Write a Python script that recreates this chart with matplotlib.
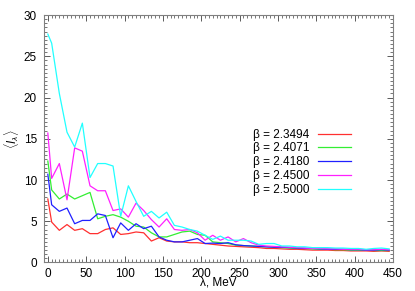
import matplotlib
matplotlib.use('Agg')
import matplotlib.pyplot as plt
from matplotlib.ticker import MultipleLocator

plt.rcParams['font.family'] = ['Liberation Sans', 'DejaVu Sans']
plt.rcParams['mathtext.fontset'] = 'custom'
plt.rcParams['mathtext.rm'] = 'Liberation Sans'
plt.rcParams['mathtext.it'] = 'Liberation Sans:italic'

# lambda values (MeV)
lam = [0] + list(range(5, 455, 10))

b23494 = [7.7, 4.9, 3.9, 4.6, 3.9, 4.1, 3.5, 3.5, 4.0, 4.2, 3.4, 3.5, 3.7, 3.6, 2.6, 3.0,
          2.6, 2.5, 2.5, 2.4, 2.4, 2.3, 2.2, 2.1, 2.0, 1.95, 1.9, 1.85, 1.8, 1.7, 1.7, 1.65,
          1.6, 1.6, 1.55, 1.5, 1.5, 1.5, 1.45, 1.45, 1.4, 1.4, 1.4, 1.35, 1.4, 1.35]
b24071 = [12.3, 8.8, 7.7, 8.3, 7.7, 8.1, 8.5, 5.3, 5.6, 5.8, 5.5, 5.0, 4.4, 4.3, 3.6, 3.1,
          3.1, 3.4, 3.7, 3.8, 3.4, 3.3, 2.5, 2.4, 2.3, 2.1, 2.05, 2.0, 1.95, 1.9, 1.85, 1.8,
          1.75, 1.7, 1.7, 1.65, 1.6, 1.6, 1.55, 1.55, 1.5, 1.5, 1.5, 1.45, 1.45, 1.45]
b24180 = [10.7, 7.0, 6.2, 6.6, 4.7, 5.1, 5.1, 5.9, 5.7, 3.0, 4.8, 3.9, 4.7, 4.1, 4.4, 3.1,
          2.7, 2.5, 2.5, 2.7, 2.9, 2.3, 2.35, 2.3, 2.4, 2.15, 2.05, 2.0, 1.95, 1.9, 1.85, 1.85,
          1.8, 1.75, 1.7, 1.7, 1.65, 1.6, 1.6, 1.6, 1.55, 1.55, 1.5, 1.5, 1.55, 1.5]
b24500 = [15.7, 10.2, 12.0, 7.6, 13.9, 13.5, 9.3, 8.7, 8.7, 6.3, 6.5, 5.5, 7.2, 6.3, 5.2, 4.3,
          5.3, 4.0, 3.9, 4.0, 3.6, 2.7, 3.3, 2.7, 3.1, 2.5, 2.9, 2.4, 2.1, 2.0, 1.95, 1.9,
          1.85, 1.8, 1.75, 1.7, 1.7, 1.65, 1.65, 1.6, 1.6, 1.6, 1.55, 1.55, 1.6, 1.55]
b25000 = [27.7, 26.6, 20.5, 15.8, 14.0, 16.9, 10.3, 12.0, 12.0, 11.7, 5.6, 9.3, 7.4, 5.6, 6.2, 5.4,
          6.1, 4.5, 4.3, 4.0, 3.8, 3.3, 2.8, 3.2, 2.7, 2.7, 2.7, 2.6, 2.2, 2.3, 2.3, 2.0,
          2.0, 1.9, 1.9, 1.8, 1.8, 1.8, 1.75, 1.75, 1.7, 1.7, 1.6, 1.7, 1.75, 1.65]

series = [(b23494, 'β = 2.3494', '#ff3030'),
          (b24071, 'β = 2.4071', '#33ee33'),
          (b24180, 'β = 2.4180', '#2020ff'),
          (b24500, 'β = 2.4500', '#ff20ff'),
          (b25000, 'β = 2.5000', '#20ffff')]

fig = plt.figure(figsize=(4.15, 2.91), dpi=100)
ax = fig.add_axes([0.106, 0.098, 0.841, 0.85])

for y, lab, c in series:
    ax.plot(lam, y, color=c, lw=0.9, label=lab)

ax.set_xlim(-5, 450)
ax.set_ylim(0, 30)
ax.xaxis.set_major_locator(MultipleLocator(50))
ax.xaxis.set_minor_locator(MultipleLocator(5))
ax.yaxis.set_major_locator(MultipleLocator(5))
ax.yaxis.set_minor_locator(MultipleLocator(0.5))
ax.tick_params(which='both', direction='in', top=True, right=True, labelsize=8.5, color='#404040')
ax.tick_params(which='major', length=4, width=0.6, pad=5)
ax.tick_params(which='minor', length=2, width=0.5)
ax.tick_params(axis='x', which='major', pad=4)
for s in ax.spines.values():
    s.set_color('#808080')
    s.set_linewidth(0.8)

ax.set_xlabel('λ, MeV', fontsize=8.5, labelpad=-2.5)
ax.set_ylabel(r'$\langle I_\lambda\rangle$', fontsize=8.5, labelpad=2)

leg = ax.legend(loc='upper right', bbox_to_anchor=(0.897, 0.565), frameon=False, fontsize=8.5,
                markerfirst=False, handlelength=2.8, handletextpad=0.75, labelspacing=0.15,
                borderpad=0)

fig.savefig('out.png', dpi=100)
